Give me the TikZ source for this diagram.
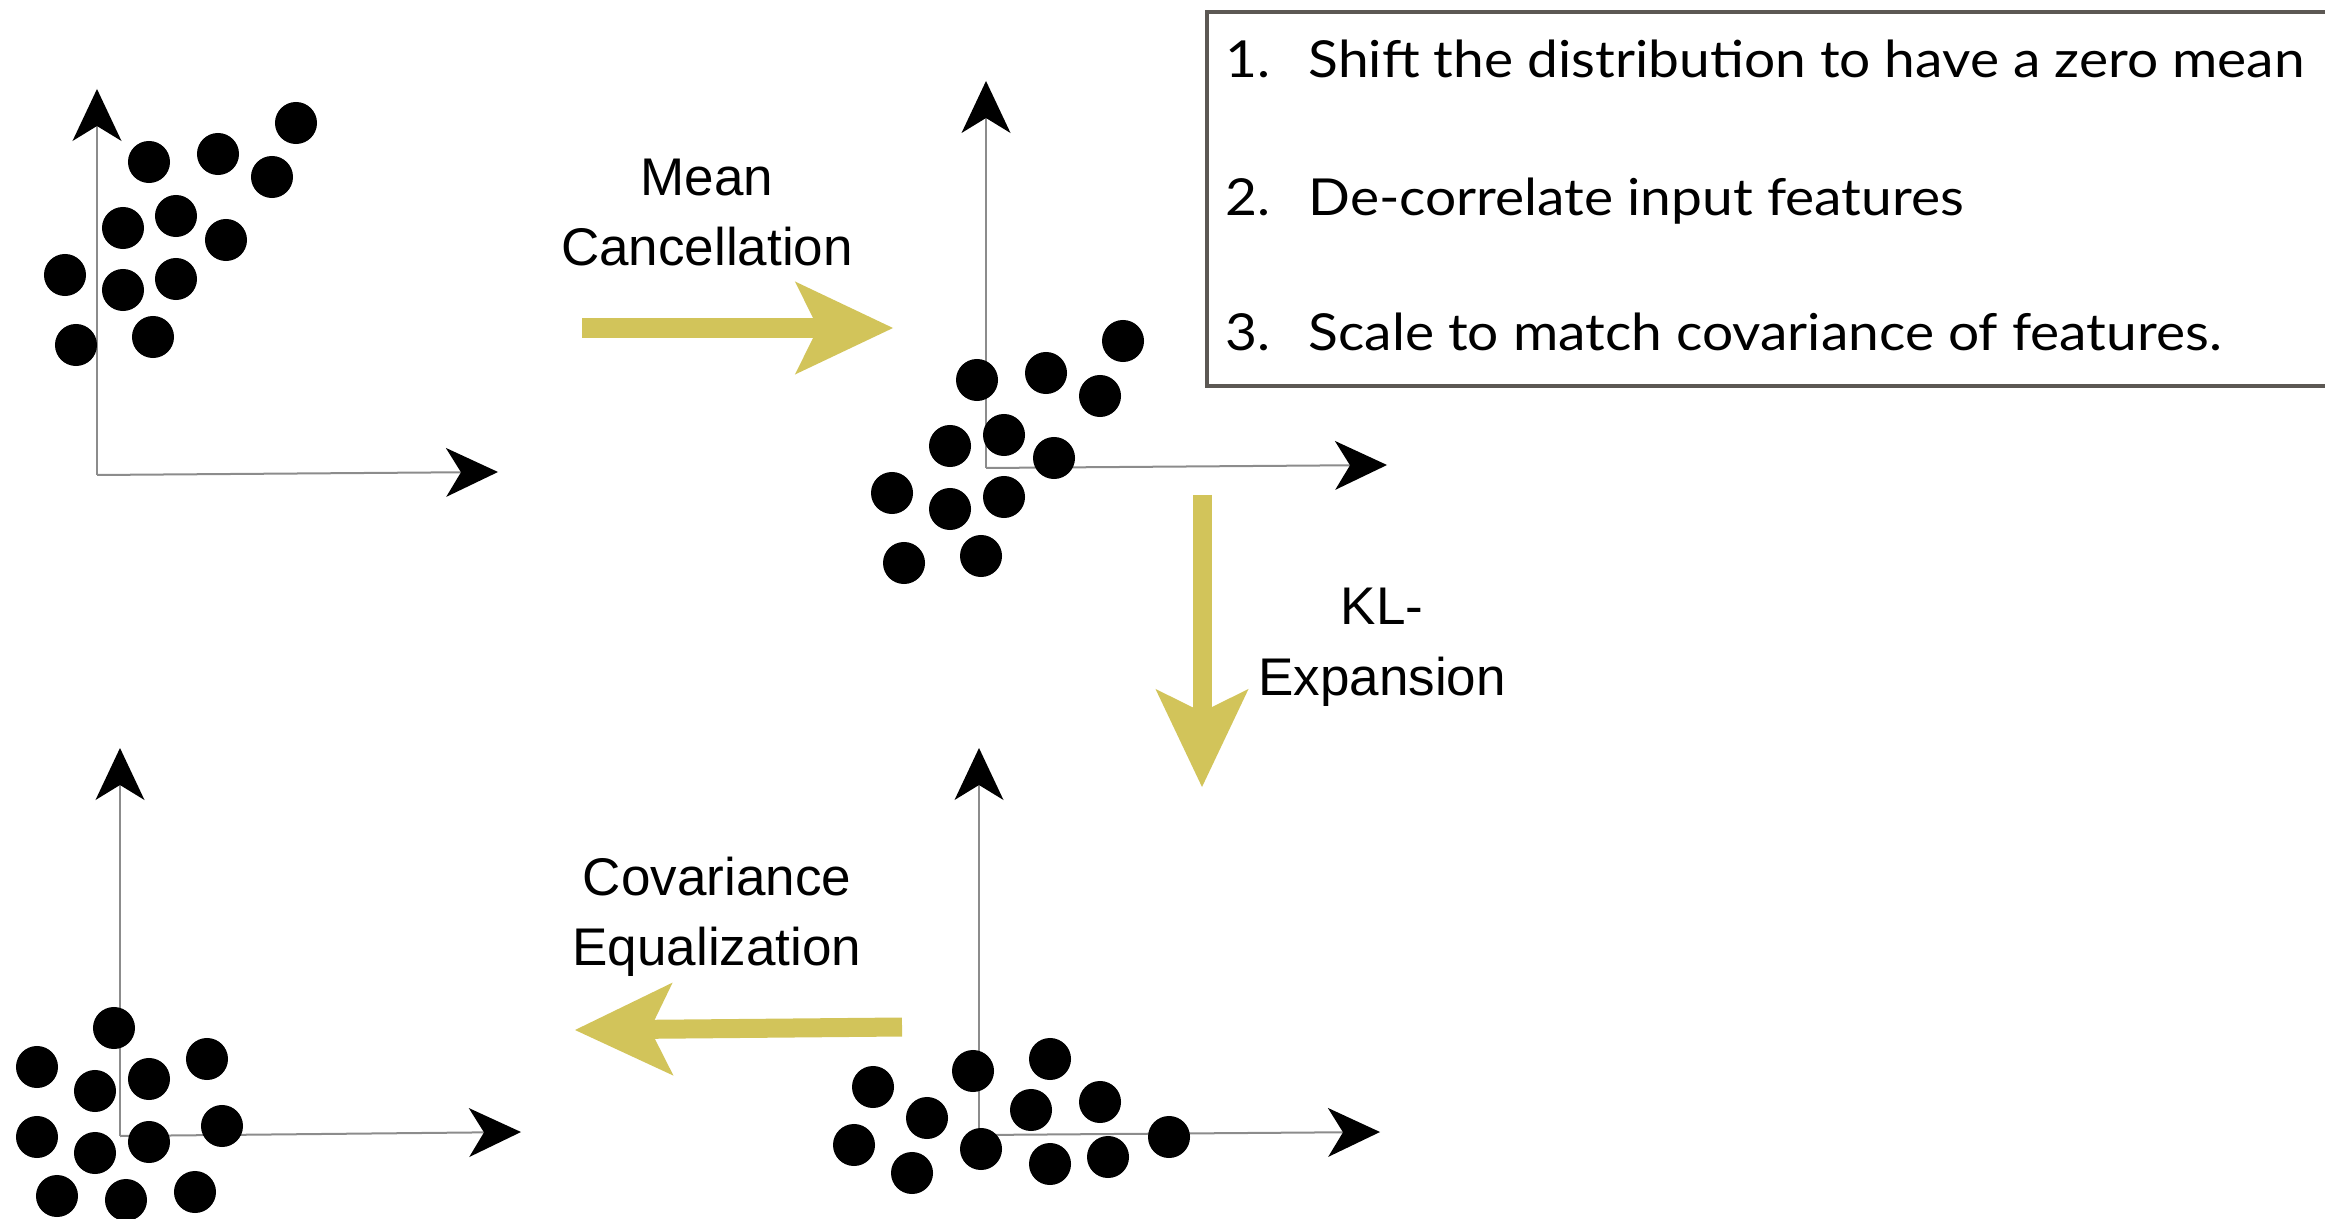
\documentclass[tikz,border=0pt]{standalone}
\usepackage{fontspec}
\setmainfont{Liberation Sans}
\newfontfamily\boxfont[FakeStretch=1.08]{Lato}
\usetikzlibrary{arrows.meta}
\definecolor{gold}{RGB}{210,196,90}
\definecolor{axisgray}{RGB}{140,140,140}
\definecolor{boxgray}{RGB}{92,88,84}
\tikzset{
 axis/.style={draw=axisgray, line width=0.02cm, -{Stealth[length=0.52cm,width=0.49cm,inset=0.15cm,color=black,line width=0pt]}},
 flow/.style={draw=gold, line width=0.19cm, -{Stealth[length=0.98cm,width=0.93cm,inset=0.23cm,line width=0pt]}},
 dot/.style={circle, fill=black, inner sep=0pt, minimum size=0.42cm},
 lbl/.style={inner sep=0pt, anchor=base, font=\fontsize{15.08pt}{18pt}\selectfont},
 itm/.style={inner sep=0pt, anchor=base west, font=\boxfont\fontsize{14.5pt}{17pt}\selectfont},
 stepbox/.style={draw=boxgray, line width=0.04cm},
}
\begin{document}
\begin{tikzpicture}
\begin{scope}[x=0.01cm, y=-0.01cm]
\useasboundingbox (0,0) rectangle (2325,1219);
\clip (0,0) rectangle (2325,1219);
% panel 1
\coordinate (o1) at (97,475);
\coordinate (y1) at (97,89);
\coordinate (x1) at (498,472);
\draw[axis] (o1) -- (y1);
\draw[axis] (o1) -- (x1);
\foreach \px/\py [count=\i] in {149/162,218/154,296/123,272/177,123/228,176/216,226/240,65/275,123/290,176/279,76/345,153/337}
  \node[dot] (pa\i) at (\px,\py) {};
% panel 2
\coordinate (o2) at (986,468);
\coordinate (y2) at (986,81);
\coordinate (x2) at (1387,465);
\draw[axis] (o2) -- (y2);
\draw[axis] (o2) -- (x2);
\foreach \px/\py [count=\i] in {977/380,1046/373,1123/341,1100/396,950/446,1004/435,1054/458,892/493,950/509,1004/497,904/563,981/556}
  \node[dot] (pb\i) at (\px,\py) {};
% panel 3
\coordinate (o3) at (120,1136);
\coordinate (y3) at (120,748);
\coordinate (x3) at (521,1132);
\draw[axis] (o3) -- (y3);
\draw[axis] (o3) -- (x3);
\foreach \px/\py [count=\i] in {114/1028,37/1067,95/1091,149/1079,207/1059,37/1137,95/1153,149/1142,222/1126,57/1196,126/1200,195/1192}
  \node[dot] (pc\i) at (\px,\py) {};
% panel 4
\coordinate (o4) at (979,1135);
\coordinate (y4) at (979,748);
\coordinate (x4) at (1380,1132);
\draw[axis] (o4) -- (y4);
\draw[axis] (o4) -- (x4);
\foreach \px/\py [count=\i] in {873/1087,927/1118,854/1145,912/1173,973/1071,981/1149,1050/1059,1031/1110,1100/1102,1050/1164,1108/1157,1169/1137}
  \node[dot] (pd\i) at (\px,\py) {};
% flow arrows
\coordinate (mcS) at (582,328);
\coordinate (mcE) at (893,328);
\draw[flow] (mcS) -- (mcE);
\coordinate (klS) at (1202,495);
\coordinate (klE) at (1202,787);
\draw[flow] (klS) -- (klE);
\coordinate (ceS) at (902,1027);
\coordinate (ceE) at (575,1030);
\draw[flow] (ceS) -- (ceE);
% labels
\node[lbl] (mc1) at (707,196) {Mean};
\node[lbl] (mc2) at (707,266) {Cancellation};
\node[lbl] (kl1) at (1382,624) {KL-};
\node[lbl] (kl2) at (1382,695) {Expansion};
\node[lbl] (ce1) at (717,895) {Covariance};
\node[lbl] (ce2) at (717,965) {Equalization};
% box
\draw[stepbox] (1207,12) rectangle (2360,386);
\node[itm] (n1) at (1225,78) {1.};
\node[itm] (t1) at (1308,78) {Shift the distribution to have a zero mean};
\node[itm] (n2) at (1225,216) {2.};
\node[itm] (t2) at (1308,216) {De-correlate input features};
\node[itm] (n3) at (1225,351) {3.};
\node[itm] (t3) at (1308,351) {Scale to match covariance of features.};
\end{scope}
\end{tikzpicture}
\end{document}
